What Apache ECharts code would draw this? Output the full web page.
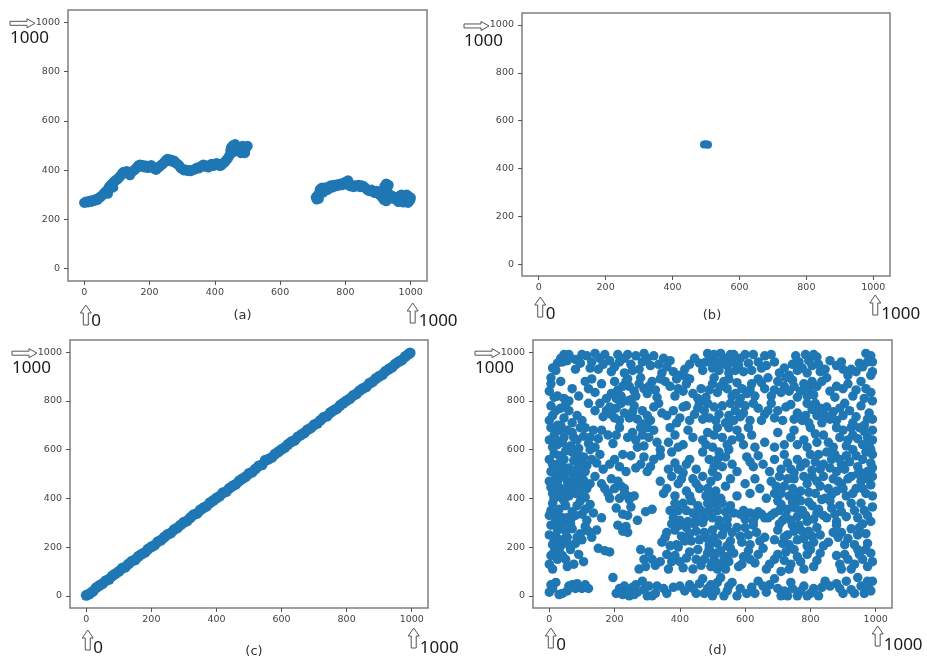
<!DOCTYPE html>
<html><head><meta charset="utf-8">
<script src="https://cdn.jsdelivr.net/npm/echarts@6/dist/echarts.min.js"></script>
<style>html,body{margin:0;padding:0;background:#fff}#c{width:927px;height:660px}</style>
</head><body><div id="c"></div>
<script>
const tickValues = [0, 200, 400, 600, 800, 1000];
const panelLabels = ['(a)', '(b)', '(c)', '(d)'];

const seriesA = [
[0,268],[5,272],[10,270],[15,275],[20,272],[25,278],[30,276],[35,282],[40,280],[45,288],[50,292],[55,298],[60,305],[65,312],[70,318],[72,305],[75,330],[80,338],[85,345],[88,330],[90,352],[95,358],[100,362],[105,368],[110,375],[115,385],[120,392],[125,388],[130,395],[135,388],[140,380],[145,392],[150,398],[155,402],[160,410],[165,418],[170,422],[175,415],[180,420],[185,412],[190,418],[195,410],[200,415],[205,420],[210,412],[215,405],[220,402],[225,410],[230,415],[235,420],[240,425],[245,432],[250,440],[255,445],[260,438],[265,442],[270,435],[275,438],[280,430],[285,425],[290,420],[295,410],[300,405],[305,400],[310,402],[315,398],[320,400],[325,396],[330,400],[335,402],[340,405],[345,410],[350,408],[355,412],[360,418],[365,422],[370,415],[375,418],[380,412],[385,420],[390,425],[395,418],[400,422],[405,428],[410,425],[415,418],[420,420],[425,428],[430,432],[435,440],[440,448],[445,460],[448,480],[450,492],[452,470],[455,500],[460,488],[462,505],[465,478],[470,495],[475,482],[480,470],[482,490],[485,498],[490,485],[492,470],[495,490],[500,498],
[710,290],[712,282],[715,298],[718,285],[720,305],[722,322],[725,315],[728,328],[732,310],[735,325],[740,330],[745,320],[750,332],[755,338],[760,330],[765,340],[770,335],[775,342],[780,338],[785,345],[790,340],[795,348],[800,352],[805,345],[808,358],[810,340],[815,335],[820,338],[825,332],[830,338],[835,335],[840,340],[845,332],[850,338],[855,335],[860,330],[865,322],[870,318],[875,315],[880,320],[885,312],[890,308],[895,315],[900,305],[905,300],[910,310],[912,290],[915,320],[918,280],[920,335],[922,305],[925,345],[925,275],[928,325],[930,300],[932,340],[935,290],[940,298],[945,285],[950,290],[955,282],[960,288],[962,272],[965,295],[970,280],[972,300],[975,285],[978,270],[980,290],[985,275],[988,300],[990,285],[992,268],[995,292],[998,278],[1000,288]
];

const seriesB = [[494,500],[500,501],[506,499]];

const seriesCx = [0,10,20,30,40,50,60,70,80,90,100,110,120,130,140,150,160,170,180,190,200,210,220,230,240,250,260,270,280,290,300,310,320,330,340,350,360,370,380,390,400,410,420,430,440,450,460,470,480,490,500,510,520,530,540,550,560,570,580,590,600,610,620,630,640,650,660,670,680,690,700,710,720,730,740,750,760,770,780,790,800,810,820,830,840,850,860,870,880,890,900,910,920,930,940,950,960,970,980,990,995];
const seriesCy = [2,8,18,33,42,50,62,68,82,91,100,113,118,131,142,148,162,171,178,192,201,208,222,229,241,252,258,272,279,291,302,308,321,333,338,352,361,368,382,391,401,409,423,428,442,451,458,472,481,489,502,508,521,533,538,556,561,568,582,591,601,609,622,632,638,652,661,669,682,689,702,708,721,733,738,752,761,768,782,791,801,809,822,829,842,851,858,872,879,892,901,908,922,931,939,952,961,968,982,992,997];

const seriesD = [
[5,895],[10,935],[25,955],[35,975],[45,990],[55,965],[80,970],[80,930],[115,985],[130,960],[140,995],[155,975],[170,990],[165,950],[200,940],[215,960],[230,975],[250,950],[265,985],[275,930],[230,915],[300,975],[320,985],[335,950],[345,915],[360,940],[380,920],[400,905],[390,890],[430,950],[460,955],[485,995],[495,970],[505,990],[515,960],[525,995],[535,975],[545,945],[555,990],[560,960],[570,925],[585,975],[600,990],[610,955],[625,990],[640,960],[660,985],[665,945],[705,915],[735,905],[755,985],[765,960],[775,935],[785,990],[795,965],[805,945],[820,980],[830,920],[880,945],[900,930],[915,905],[940,920],[970,995],[985,985],[990,960],[960,940],[990,920],
[0,840],[5,870],[25,820],[45,810],[60,800],[110,880],[120,850],[140,835],[175,810],[200,880],[210,845],[220,820],[235,880],[245,860],[260,840],[250,805],[275,870],[290,850],[300,830],[315,880],[330,815],[355,880],[370,860],[395,850],[420,870],[440,830],[465,850],[480,815],[500,870],[515,835],[535,880],[545,850],[560,820],[575,875],[590,850],[605,830],[620,870],[640,890],[660,850],[680,820],[700,880],[720,860],[735,840],[745,885],[760,815],[780,870],[795,850],[810,825],[835,880],[860,840],[875,815],[900,850],[930,820],[955,880],[970,850],[985,835],[990,800],
[0,720],[10,740],[25,700],[35,770],[50,785],[70,710],[100,720],[120,790],[140,760],[175,760],[190,745],[205,770],[220,790],[230,750],[245,730],[260,780],[215,720],[285,760],[300,740],[320,775],[290,705],[360,740],[380,760],[400,730],[420,780],[445,745],[460,790],[475,760],[490,730],[505,775],[520,745],[540,710],[555,790],[570,760],[585,735],[600,780],[615,720],[640,770],[660,745],[680,790],[700,760],[715,720],[740,785],[760,750],[775,720],[790,790],[805,765],[820,740],[835,710],[850,775],[870,755],[880,720],[905,790],[920,760],[940,735],[965,700],[980,750],[990,725],
[0,640],[5,690],[15,660],[25,620],[30,680],[45,650],[55,600],[70,670],[85,640],[95,690],[105,655],[120,625],[135,680],[150,645],[180,660],[195,625],[215,690],[255,670],[265,640],[280,690],[290,615],[305,650],[320,680],[340,600],[365,630],[385,660],[410,620],[425,680],[470,640],[485,670],[500,610],[515,690],[530,650],[560,640],[575,680],[595,620],[620,660],[660,630],[690,610],[700,670],[740,650],[760,620],[780,640],[800,690],[820,630],[840,660],[870,610],[900,680],[915,640],[930,660],[950,690],[960,620],[975,650],[990,680],[985,600],
[0,560],[5,510],[15,585],[25,540],[35,500],[45,560],[60,525],[70,590],[85,550],[95,505],[105,570],[115,535],[125,600],[145,545],[165,520],[200,560],[215,530],[235,510],[250,575],[280,540],[300,510],[320,560],[365,520],[385,545],[410,505],[430,560],[490,560],[505,530],[520,590],[540,570],[560,540],[605,570],[625,530],[640,575],[690,560],[710,520],[730,545],[750,505],[770,530],[800,580],[815,550],[830,520],[850,590],[865,560],[880,510],[895,540],[910,575],[930,600],[945,530],[960,560],[975,510],[990,580],[985,545],
[0,470],[10,420],[20,490],[30,445],[40,400],[55,470],[65,430],[75,490],[85,455],[95,415],[105,475],[115,440],[160,460],[180,420],[200,440],[215,400],[230,420],[245,395],[340,470],[360,440],[375,490],[395,460],[420,430],[440,480],[460,440],[480,410],[495,470],[510,430],[525,400],[555,480],[600,460],[615,420],[630,480],[680,470],[690,420],[705,490],[720,450],[735,410],[750,480],[770,430],[790,460],[805,490],[815,420],[830,450],[845,400],[870,480],[880,430],[895,460],[910,410],[925,490],[940,440],[955,470],[970,420],[985,455],[990,490],
[0,330],[10,380],[20,310],[30,355],[45,390],[55,320],[70,345],[85,370],[100,335],[115,310],[125,375],[205,360],[225,335],[250,365],[295,345],[315,355],[380,320],[395,350],[410,380],[425,305],[440,340],[455,370],[475,320],[490,350],[505,380],[520,310],[540,345],[555,370],[585,335],[600,315],[615,340],[630,325],[650,335],[670,320],[690,340],[700,390],[715,310],[730,355],[745,385],[760,325],[775,350],[790,305],[805,370],[820,340],[835,395],[850,320],[865,360],[880,305],[895,345],[925,380],[945,320],[965,350],[985,305],[990,365],
[0,250],[5,290],[15,225],[25,270],[35,205],[45,300],[55,240],[70,275],[80,215],[95,255],[110,285],[130,240],[145,270],[210,290],[225,265],[235,285],[345,220],[360,260],[375,295],[390,210],[405,245],[420,280],[435,225],[450,265],[470,300],[485,235],[500,270],[515,215],[530,250],[545,290],[555,225],[585,245],[600,280],[615,210],[635,260],[645,225],[700,270],[715,215],[730,250],[745,290],[760,230],[775,265],[790,205],[805,245],[820,280],[855,220],[870,260],[885,240],[905,210],[925,275],[945,250],[960,295],[975,215],
[0,130],[15,180],[25,150],[40,165],[55,120],[65,190],[105,140],[150,195],[185,180],[275,110],[290,150],[305,180],[325,125],[360,170],[375,140],[395,200],[410,115],[430,180],[450,150],[465,125],[485,175],[495,120],[505,150],[515,110],[525,185],[530,135],[545,160],[555,195],[580,120],[595,160],[610,185],[630,135],[665,110],[690,150],[710,100],[725,180],[740,130],[760,160],[780,110],[800,190],[820,145],[890,130],[905,170],[925,110],[945,190],[960,150],[975,120],[985,175],
[0,15],[5,45],[20,55],[40,10],[55,20],[70,45],[85,50],[100,30],[120,30],[195,75],[215,30],[225,5],[235,20],[245,0],[255,35],[270,15],[285,60],[300,0],[315,0],[330,40],[350,30],[380,35],[400,40],[430,45],[450,10],[470,70],[485,30],[500,0],[515,55],[535,0],[550,40],[575,0],[620,35],[640,60],[665,15],[690,70],[710,0],[730,0],[745,30],[760,0],[780,40],[800,10],[825,0],[845,60],[880,50],[900,10],[925,25],[945,75],[965,10],[980,30],[990,60],
[20,925],[40,960],[60,990],[95,955],[100,990],[125,935],[150,930],[185,965],[190,920],[210,990],[240,990],[255,925],[285,960],[290,995],[310,945],[350,975],[370,965],[415,930],[420,895],[445,975],[470,925],[480,960],[500,935],[520,925],[530,955],[550,915],[565,990],[580,945],[595,920],[620,925],[650,935],[680,990],[690,960],[720,935],[745,950],[760,925],[790,915],[810,990],[825,950],[845,930],[860,965],[895,960],[925,930],[950,955],[975,960],[985,905],
[15,815],[35,880],[70,850],[90,820],[130,890],[160,870],[190,830],[205,810],[225,860],[240,890],[265,820],[280,895],[305,860],[325,845],[340,890],[385,820],[410,840],[430,890],[455,810],[490,845],[505,895],[525,860],[550,890],[570,830],[585,810],[615,845],[630,820],[650,875],[670,895],[690,845],[710,835],[725,895],[750,860],[770,840],[790,820],[805,880],[820,860],[850,895],[880,860],[915,870],[940,845],[965,810],
[5,780],[20,760],[45,730],[60,760],[85,740],[155,790],[165,735],[185,775],[200,730],[240,800],[255,755],[270,725],[310,720],[335,790],[345,750],[390,710],[410,775],[430,720],[455,770],[470,725],[485,790],[510,720],[530,780],[550,740],[565,720],[580,790],[595,750],[625,790],[650,720],[670,760],[690,730],[725,775],[750,725],[785,740],[795,710],[815,790],[830,770],[845,740],[860,725],[890,770],[900,740],[930,710],[955,780],[975,725],
[10,610],[20,640],[35,700],[40,630],[55,680],[65,615],[75,650],[90,605],[110,690],[125,650],[140,610],[160,680],[205,660],[240,650],[270,610],[285,660],[300,690],[330,630],[370,690],[395,610],[440,650],[480,620],[505,660],[545,620],[550,690],[585,650],[610,690],[630,610],[720,620],[750,680],[790,610],[815,665],[855,630],[880,690],[890,650],[910,615],[925,690],[945,645],[965,675],[980,620],[990,640],
[10,540],[20,505],[30,575],[40,530],[50,595],[55,510],[75,555],[80,515],[90,580],[100,540],[110,510],[130,560],[155,580],[185,540],[225,580],[265,525],[290,570],[310,530],[340,575],[375,590],[395,520],[420,540],[450,520],[470,590],[500,510],[515,560],[530,530],[550,600],[575,510],[615,550],[655,540],[675,510],[720,580],[740,520],[760,560],[785,545],[805,515],[825,580],[840,540],[860,525],[875,580],[890,560],[905,520],[920,550],[940,575],[955,505],[970,590],[990,525],
[5,445],[15,400],[25,470],[35,420],[45,490],[50,440],[60,410],[70,460],[80,420],[90,480],[100,445],[110,405],[125,460],[140,490],[190,480],[220,450],[260,410],[350,420],[385,410],[405,480],[430,410],[450,460],[470,490],[485,440],[500,410],[515,490],[540,450],[575,410],[645,440],[665,400],[695,450],[710,420],[730,480],[745,440],[760,410],[780,490],[795,425],[820,470],[840,490],[855,440],[865,415],[885,470],[900,440],[915,480],[930,420],[945,500],[960,440],[975,480],[990,410],
[5,350],[15,400],[25,335],[40,320],[50,370],[65,310],[80,330],[95,390],[110,355],[135,340],[160,320],[240,330],[270,310],[370,350],[385,380],[400,310],[420,350],[435,390],[450,320],[465,350],[485,380],[500,320],[515,350],[530,380],[545,315],[565,340],[595,350],[625,305],[640,345],[660,320],[680,330],[705,350],[710,375],[725,325],[740,310],[755,360],[770,390],[785,330],[795,385],[810,315],[825,355],[840,330],[860,390],[875,335],[890,370],[910,325],[935,350],[955,380],[975,330],
[10,210],[20,245],[30,290],[40,230],[50,265],[60,210],[65,295],[85,240],[100,230],[120,265],[240,260],[355,240],[370,205],[385,270],[400,290],[415,225],[430,255],[445,295],[460,230],[475,260],[490,210],[505,240],[520,290],[535,275],[545,205],[560,260],[575,280],[590,220],[610,250],[625,290],[660,240],[690,230],[705,295],[720,240],[735,210],[750,265],[765,290],[780,235],[795,265],[810,220],[830,250],[840,205],[880,290],[895,260],[915,235],[935,210],[950,280],[970,255],
[5,165],[10,110],[30,190],[50,150],[75,130],[90,170],[170,185],[280,190],[295,120],[315,150],[340,140],[365,110],[385,165],[400,140],[420,155],[440,110],[455,190],[475,150],[490,195],[500,135],[510,175],[520,125],[535,160],[540,110],[550,140],[565,175],[590,130],[615,150],[640,170],[655,195],[675,130],[700,170],[720,145],[735,110],[750,190],[770,140],[790,170],[810,120],[830,175],[880,165],[895,110],[915,150],[935,130],[950,170],[970,190],[990,140],
[10,30],[30,5],[60,40],[80,30],[110,45],[205,10],[230,40],[240,15],[260,5],[265,45],[290,25],[305,40],[325,10],[360,10],[415,20],[440,30],[460,50],[475,10],[495,45],[510,20],[525,75],[545,20],[560,55],[585,30],[605,10],[630,10],[655,40],[675,45],[700,30],[720,20],[740,55],[770,20],[790,0],[810,30],[835,35],[860,40],[890,30],[910,60],[935,10],[955,40],[975,60],[985,20],
[170,440],[185,400],[230,440],[210,470],[240,410]
];

const chart = echarts.init(document.getElementById('c'), null, {renderer: 'canvas'});
const grids = [
  {left: 68, top: 10, width: 359, height: 271},
  {left: 522, top: 13, width: 368, height: 263},
  {left: 70, top: 340, width: 358, height: 268},
  {left: 533, top: 340, width: 359, height: 268}
];
const blue = '#1f77b4';
function axis(type, i) {
  return {
    type: 'value', gridIndex: i, min: -50, max: 1050,
    splitLine: {show: false},
    axisLine: {show: false, onZero: false},
    axisTick: {show: true, length: 4, lineStyle: {color: '#555', width: 1}, customValues: tickValues},
    axisLabel: {color: '#444', fontSize: 9.5, fontFamily: 'DejaVu Sans', margin: type === 'x' ? 7 : 8,
      customValues: tickValues, formatter: v => String(v)}
  };
}
const cData = seriesCx.map((x, k) => [x, seriesCy[k]]);
const allData = [seriesA, seriesB, cData, seriesD];
const sizes = [10.5, 8, 11, 9.5];
chart.setOption({
  animation: false,
  backgroundColor: '#fff',
  grid: grids.map(g => Object.assign({show: true, borderColor: '#7f7f7f', borderWidth: 1.5, backgroundColor: 'transparent'}, g)),
  xAxis: [0, 1, 2, 3].map(i => axis('x', i)),
  yAxis: [0, 1, 2, 3].map(i => axis('y', i)),
  series: allData.map((d, i) => ({
    type: 'scatter', xAxisIndex: i, yAxisIndex: i, data: d,
    symbolSize: sizes[i], itemStyle: {color: blue, opacity: 1},
    emphasis: {disabled: true}, silent: true, large: false
  }))
});

const arrowTop = [24, 21, 22, 20];
const numMid = [40, 38, 40, 37];
const capMid = [35, 40, 44, 43];
const capDx = [-5, 6, 5, 5];
const graphics = [];
const bigFont = '17px "Noto Sans"';
for (let i = 0; i < 4; i++) {
  const P = (x, y) => chart.convertToPixel({gridIndex: i}, [x, y]);
  const yTop = P(0, 1000)[1];
  const left = P(-50, 0)[0];
  const x0 = P(0, 0)[0];
  const x1 = P(1000, 0)[0];
  const bottom = P(0, -50)[1];
  graphics.push({type: 'polygon', x: left - 58, y: yTop + 1, silent: true,
    shape: {points: [[0,-2],[17,-2],[17,-4.5],[25,0],[17,4.5],[17,2],[0,2]]},
    style: {fill: '#fff', stroke: '#555', lineWidth: 1}});
  graphics.push({type: 'text', x: left - 58, y: yTop + 16, silent: true,
    style: {text: '1000', font: bigFont, fill: '#1a1a1a', verticalAlign: 'middle', align: 'left'}});
  const up = [[0,0],[5.5,8],[2.5,8],[2.5,20],[-2.5,20],[-2.5,8],[-5.5,8]];
  graphics.push({type: 'polygon', x: x0 + 1.5, y: bottom + arrowTop[i], silent: true,
    shape: {points: up}, style: {fill: '#fff', stroke: '#555', lineWidth: 1}});
  graphics.push({type: 'text', x: x0 + 7, y: bottom + numMid[i], silent: true,
    style: {text: '0', font: bigFont, fill: '#1a1a1a', verticalAlign: 'middle', align: 'left'}});
  graphics.push({type: 'polygon', x: x1 + 2, y: bottom + arrowTop[i] - 2, silent: true,
    shape: {points: up}, style: {fill: '#fff', stroke: '#555', lineWidth: 1}});
  graphics.push({type: 'text', x: x1 + 8, y: bottom + numMid[i], silent: true,
    style: {text: '1000', font: bigFont, fill: '#1a1a1a', verticalAlign: 'middle', align: 'left'}});
  graphics.push({type: 'text', x: (x0 + x1) / 2 + capDx[i], y: bottom + capMid[i], silent: true,
    style: {text: panelLabels[i], font: '13px "DejaVu Sans"', fill: '#333', verticalAlign: 'middle', align: 'center'}});
}
chart.setOption({graphic: graphics});
</script>
</body></html>
